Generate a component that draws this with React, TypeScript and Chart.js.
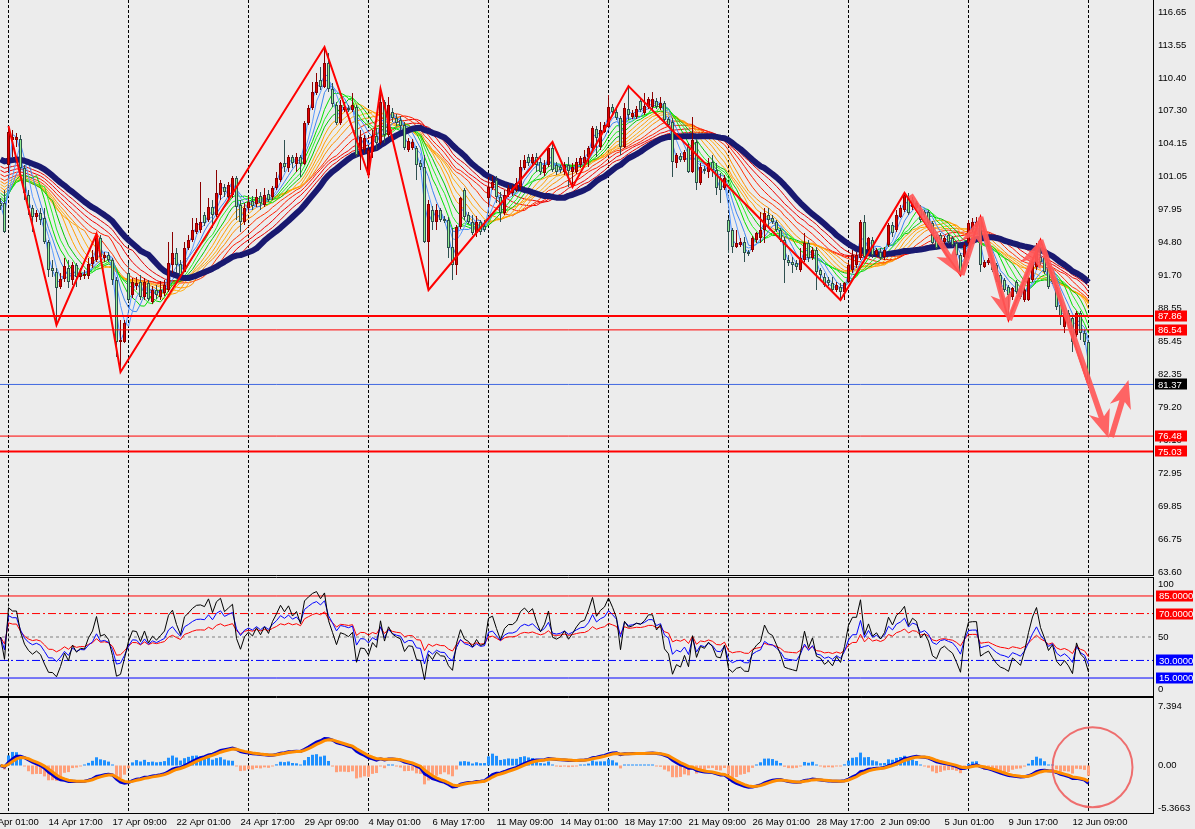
import { useEffect, useRef } from "react";
import { Chart, registerables } from "chart.js";

Chart.register(...registerables);

// ---------------- data (H4 bars, index 0 .. 272) ----------------
const opens = [
  98.56, 98.56, 102.16, 104.53, 104.53, 104.62, 101.88, 99.32, 98.09, 97.23,
  97.61, 97.14, 94.87, 92.40, 92.02, 90.60, 91.36, 92.40, 91.27, 92.69,
  91.55, 91.64, 91.64, 92.78, 93.16, 95.24, 93.35, 93.63, 93.16, 91.27,
  85.39, 85.39, 91.93, 89.84, 90.70, 91.08, 89.66, 90.98, 89.18, 90.32,
  89.66, 90.03, 90.32, 92.69, 93.82, 92.78, 92.02, 94.30, 95.05, 95.81,
  96.00, 97.42, 96.95, 98.18, 97.42, 99.32, 100.08, 99.13, 99.32, 100.93,
  98.37, 96.76, 98.09, 98.75, 98.47, 99.22, 98.37, 99.41, 99.13, 99.98,
  100.74, 102.35, 101.88, 102.92, 102.25, 102.92, 102.25, 106.14, 107.56, 108.98,
  110.21, 109.55, 111.82, 109.36, 107.84, 106.14, 107.37, 107.56, 107.37, 107.65,
  103.11, 103.58, 101.21, 103.39, 104.91, 104.24, 108.13, 105.00, 107.18, 106.61,
  106.42, 105.95, 103.58, 103.77, 103.77, 102.35, 101.97, 94.87, 97.90, 96.76,
  97.90, 97.04, 96.95, 94.39, 92.69, 96.29, 99.79, 97.42, 96.76, 95.72,
  96.76, 96.38, 99.03, 99.98, 100.74, 99.13, 97.61, 99.32, 99.51, 99.79,
  100.08, 101.88, 102.92, 102.35, 102.92, 102.44, 101.40, 102.16, 103.77, 102.16,
  101.97, 101.50, 102.16, 101.50, 101.50, 102.16, 102.35, 102.92, 103.77, 105.57,
  103.86, 105.29, 105.76, 107.65, 107.18, 106.61, 103.86, 107.46, 106.71, 106.71,
  108.22, 107.09, 107.65, 107.65, 108.22, 107.56, 108.03, 106.52, 106.23, 102.35,
  103.01, 102.63, 103.86, 101.50, 104.34, 100.45, 101.78, 101.50, 102.44, 101.69,
  100.93, 99.98, 96.95, 96.00, 94.39, 94.58, 94.87, 93.92, 94.11, 95.05,
  95.24, 96.00, 97.42, 97.14, 96.76, 96.00, 95.05, 93.16, 92.97, 92.88,
  92.21, 93.16, 94.77, 93.35, 94.11, 92.21, 91.55, 91.27, 90.98, 90.32,
  90.60, 90.13, 91.08, 92.21, 92.69, 93.35, 96.76, 94.11, 95.05, 93.63,
  93.92, 93.44, 94.58, 96.48, 96.00, 97.23, 97.90, 99.03, 98.18, 98.09,
  97.90, 97.71, 97.71, 96.67, 95.34, 95.53, 94.87, 95.53, 95.24, 94.77,
  93.63, 93.44, 94.77, 96.00, 96.29, 97.14, 92.50, 92.88, 92.97, 92.69,
  91.74, 91.27, 90.60, 89.66, 91.08, 90.51, 89.37, 89.37, 91.27, 92.50,
  93.44, 93.35, 92.50, 91.55, 90.60, 88.90, 86.81, 88.14, 87.67, 86.06,
  88.14, 86.24, 85.39,
];
const highs = [
  99.03, 99.79, 105.85, 105.48, 105.19, 105.00, 102.16, 99.79, 98.37, 97.90,
  98.09, 98.09, 95.05, 93.16, 92.40, 91.93, 93.35, 93.16, 92.97, 92.88,
  92.40, 92.21, 93.35, 94.11, 95.62, 95.53, 93.92, 93.92, 93.35, 91.55,
  87.48, 87.48, 92.88, 91.46, 91.55, 91.74, 91.46, 91.27, 90.70, 90.79,
  91.17, 91.27, 94.87, 95.81, 94.30, 93.16, 94.87, 95.53, 97.14, 97.14,
  100.55, 97.71, 99.03, 98.84, 101.69, 100.74, 100.36, 100.55, 101.12, 101.12,
  98.84, 98.56, 99.22, 99.22, 99.89, 99.60, 99.98, 99.79, 100.17, 101.50,
  102.44, 104.53, 103.11, 103.11, 103.30, 103.11, 106.33, 107.84, 110.02, 110.87,
  111.44, 113.34, 112.77, 109.93, 108.13, 108.32, 108.13, 107.84, 108.98, 107.84,
  105.48, 105.00, 103.77, 105.48, 105.66, 109.36, 108.32, 108.60, 107.56, 106.99,
  106.80, 106.23, 104.72, 104.62, 103.96, 102.63, 103.11, 98.84, 98.28, 98.47,
  98.09, 97.33, 97.23, 96.19, 96.48, 99.13, 99.98, 97.71, 97.42, 97.33,
  96.95, 96.95, 101.02, 101.12, 101.12, 99.60, 99.79, 100.26, 100.26, 100.93,
  102.63, 103.11, 103.20, 103.20, 103.30, 102.82, 102.63, 103.96, 104.34, 102.44,
  102.16, 102.44, 102.92, 102.35, 102.82, 103.01, 103.58, 103.96, 105.85, 105.85,
  106.23, 106.23, 108.79, 107.94, 107.56, 106.80, 108.03, 109.64, 107.37, 107.75,
  108.51, 108.98, 108.60, 109.08, 108.51, 108.60, 108.22, 106.71, 106.61, 103.30,
  103.30, 103.58, 104.24, 106.71, 104.53, 102.35, 102.06, 102.82, 103.11, 102.35,
  101.40, 101.21, 97.14, 96.19, 96.00, 95.24, 95.34, 94.11, 95.43, 95.81,
  97.71, 98.09, 98.09, 97.42, 96.95, 96.19, 95.34, 93.63, 93.44, 93.16,
  94.30, 95.72, 95.05, 94.39, 94.39, 92.40, 91.93, 91.55, 91.55, 91.08,
  90.98, 91.08, 92.97, 94.11, 93.92, 96.95, 97.42, 95.34, 95.34, 94.30,
  94.30, 94.39, 96.67, 96.76, 97.90, 98.37, 99.51, 99.51, 99.13, 98.75,
  98.37, 97.90, 97.90, 96.85, 95.53, 95.72, 95.43, 95.72, 95.43, 94.96,
  93.82, 94.77, 96.95, 97.14, 97.23, 97.23, 93.16, 93.35, 93.35, 92.88,
  91.93, 91.46, 90.79, 90.60, 91.27, 90.70, 90.60, 91.64, 93.16, 94.77,
  95.05, 93.54, 92.69, 91.74, 90.79, 89.09, 88.42, 88.42, 87.95, 88.33,
  88.33, 86.53, 85.58,
];
const lows = [
  97.90, 95.72, 101.69, 102.92, 103.86, 101.21, 98.84, 97.42, 95.81, 96.76,
  96.48, 94.68, 91.55, 91.55, 87.00, 90.41, 91.08, 90.51, 90.79, 90.60,
  91.27, 91.36, 91.36, 92.40, 92.97, 92.97, 92.97, 92.97, 90.79, 83.97,
  82.55, 85.30, 89.18, 89.56, 90.32, 89.37, 89.37, 89.28, 88.99, 89.47,
  89.37, 89.75, 90.13, 91.93, 91.93, 91.46, 92.02, 94.11, 94.87, 95.62,
  95.72, 96.38, 96.76, 96.19, 97.23, 98.84, 99.13, 98.84, 99.03, 96.95,
  95.81, 96.48, 97.71, 97.90, 98.18, 97.90, 98.18, 98.65, 98.84, 99.79,
  100.55, 101.50, 101.50, 101.88, 101.50, 101.02, 102.16, 105.95, 107.37, 108.79,
  109.26, 109.45, 109.08, 107.65, 105.95, 105.95, 107.18, 107.18, 107.18, 102.92,
  101.69, 103.30, 101.21, 102.82, 103.58, 104.05, 104.24, 104.81, 106.23, 105.85,
  105.48, 103.58, 103.39, 103.58, 100.74, 101.69, 94.77, 90.32, 96.00, 96.00,
  96.76, 96.67, 93.35, 91.27, 91.74, 96.10, 96.95, 96.57, 95.53, 95.34,
  95.53, 95.81, 98.18, 99.79, 98.56, 96.76, 97.42, 99.13, 99.22, 99.60,
  99.79, 101.69, 102.06, 102.16, 101.50, 101.21, 101.12, 101.97, 101.50, 101.21,
  101.40, 101.21, 100.08, 100.08, 101.31, 101.88, 101.97, 101.97, 103.58, 102.92,
  103.58, 105.19, 105.66, 106.99, 106.42, 103.11, 103.77, 106.42, 106.52, 106.52,
  107.18, 106.90, 107.46, 107.37, 107.46, 107.37, 106.14, 105.76, 101.02, 101.88,
  102.44, 102.44, 101.40, 101.40, 99.79, 100.26, 101.31, 100.93, 101.02, 99.32,
  98.56, 99.79, 93.82, 93.82, 94.30, 94.39, 92.97, 93.54, 93.92, 94.77,
  94.77, 94.77, 96.19, 96.57, 95.81, 94.87, 90.98, 92.59, 91.93, 92.21,
  92.02, 92.97, 92.97, 93.16, 90.32, 91.27, 90.60, 90.70, 90.13, 90.13,
  89.37, 89.37, 90.98, 91.93, 92.40, 93.16, 93.35, 93.92, 93.35, 93.44,
  93.16, 93.16, 94.39, 95.34, 95.81, 97.14, 97.71, 97.42, 97.90, 97.90,
  96.76, 97.23, 96.48, 94.58, 94.11, 94.87, 94.68, 94.68, 94.39, 93.44,
  91.74, 93.25, 94.58, 95.81, 96.10, 92.02, 92.40, 92.69, 92.02, 91.08,
  90.13, 90.13, 87.48, 89.37, 89.94, 89.47, 89.18, 89.28, 91.08, 92.21,
  92.69, 91.83, 90.41, 90.89, 88.42, 87.00, 86.24, 86.72, 84.45, 85.87,
  85.58, 85.11, 81.30,
];
const closes = [
  98.28, 95.81, 105.29, 104.81, 104.81, 101.88, 99.51, 98.09, 97.23, 97.61,
  96.95, 94.87, 92.21, 92.12, 90.51, 91.36, 92.59, 91.08, 92.69, 91.55,
  91.93, 91.83, 92.78, 93.44, 95.24, 93.44, 93.63, 93.16, 91.27, 85.39,
  85.58, 87.19, 89.37, 91.08, 90.98, 89.66, 91.08, 89.47, 90.32, 89.84,
  90.32, 90.79, 92.88, 93.82, 92.69, 91.74, 94.30, 95.05, 96.00, 96.67,
  96.76, 96.67, 98.18, 97.42, 99.51, 100.45, 99.60, 100.26, 100.93, 98.18,
  96.76, 98.09, 98.65, 98.28, 99.13, 98.56, 99.32, 98.84, 99.98, 100.93,
  102.35, 101.97, 102.92, 102.35, 102.92, 102.25, 106.14, 107.56, 109.08, 110.02,
  109.55, 111.82, 109.36, 107.94, 106.14, 107.84, 107.65, 107.37, 107.84, 103.11,
  104.81, 104.72, 103.58, 104.91, 104.24, 108.13, 105.00, 107.84, 106.61, 106.14,
  105.85, 103.77, 104.43, 104.34, 102.16, 101.97, 94.87, 98.47, 96.76, 97.90,
  96.95, 96.85, 94.30, 92.69, 96.29, 99.03, 97.23, 96.76, 95.72, 96.76,
  95.81, 96.00, 100.08, 100.55, 99.13, 97.61, 99.32, 99.98, 99.98, 100.45,
  101.97, 102.63, 102.35, 102.92, 102.16, 101.50, 102.16, 103.77, 101.69, 101.50,
  101.69, 102.16, 101.59, 101.97, 102.44, 102.82, 102.92, 103.77, 105.66, 104.72,
  105.48, 105.95, 107.65, 107.18, 106.61, 103.86, 107.56, 106.90, 107.09, 107.46,
  107.37, 107.75, 108.41, 108.41, 107.65, 108.03, 106.42, 105.95, 102.44, 103.11,
  102.63, 103.39, 101.50, 104.53, 100.45, 101.97, 101.59, 102.35, 101.69, 99.98,
  99.79, 100.93, 95.81, 94.39, 94.77, 94.87, 93.82, 93.73, 95.24, 95.72,
  96.00, 97.61, 96.95, 96.76, 96.00, 95.05, 93.16, 92.88, 92.69, 92.50,
  93.35, 94.77, 93.35, 94.11, 92.02, 91.74, 90.79, 90.98, 90.32, 90.79,
  90.13, 90.98, 92.69, 93.63, 93.63, 96.76, 93.44, 95.24, 93.63, 94.11,
  93.35, 94.11, 96.48, 95.72, 97.42, 98.09, 99.32, 97.61, 98.84, 98.56,
  96.95, 97.42, 96.67, 94.77, 94.30, 95.05, 95.24, 94.87, 94.58, 93.63,
  92.02, 94.58, 96.67, 96.76, 96.76, 92.69, 92.97, 93.16, 92.21, 91.27,
  90.60, 90.32, 89.84, 90.51, 90.13, 89.66, 90.32, 91.46, 92.97, 94.39,
  92.97, 92.02, 90.60, 91.08, 88.71, 87.76, 88.14, 87.19, 85.39, 88.14,
  86.24, 85.39, 81.37,
];

// time axis labels (bar index where each label starts) and dotted grid bars
const timeLabels = [
  "10 Apr 01:00", "14 Apr 17:00", "17 Apr 09:00", "22 Apr 01:00", "24 Apr 17:00",
  "29 Apr 09:00", "4 May 01:00", "6 May 17:00", "11 May 09:00", "14 May 01:00",
  "18 May 17:00", "21 May 09:00", "26 May 01:00", "28 May 17:00", "2 Jun 09:00",
  "5 Jun 01:00", "9 Jun 17:00", "12 Jun 09:00",
];
const timeLabelBars = [-4, 12, 28, 44, 60, 76, 92, 108, 124, 140, 156, 172, 188, 204, 220, 236, 252, 268];
const gridBars = [2, 32, 62, 92, 122, 152, 182, 212, 242, 272];

// price axis tick labels (bottom to top)
const priceTickLabels = [
  "63.60", "66.75", "69.85", "72.95", "76.10", "79.20", "82.35", "85.45", "88.55",
  "91.70", "94.80", "97.95", "101.05", "104.15", "107.30", "110.40", "113.55", "116.65",
];
const priceTickLow = 63.6;
const priceTickHigh = 116.65;

// rainbow moving averages (periods, start values read at left edge, colours)
const ribbonPeriods = [2, 4, 6, 8, 10, 12, 14, 16, 18, 20, 23, 26, 29, 32];
const ribbonSeeds = [98.56, 98.75, 98.94, 99.13, 99.32, 99.6, 99.89, 100.17, 100.45, 100.74, 101.02, 101.4, 101.78, 102.16];
const ribbonColors = [
  "#4A90FF", "#5B9BFF", "#3C84F0",
  "#00E000", "#22F022", "#00C800",
  "#FFA500", "#FF9A00", "#FFAE10", "#FF8C00",
  "#FF3300", "#FF1A00", "#F00000", "#E00000",
];
const trendPeriod = 36;
const trendSeed = 102.82;

// zigzag vertices
const zigzagBars = [2, 14, 24, 30, 81, 92, 95, 107, 138, 143, 157, 210, 226, 240, 245, 252, 260, 272];
const zigzagPrices = [105.85, 87.0, 95.62, 82.55, 113.34, 101.21, 109.36, 90.32, 104.34, 100.08, 109.64, 89.37, 99.51, 91.74, 97.23, 87.48, 95.05, 81.3];

// drawn arrows
const arrowFromBars = [227.5, 240.3, 245, 252.2, 260, 277.7];
const arrowFromPrices = [99.32, 91.74, 97.23, 87.48, 95.05, 76.4];
const arrowToBars = [240, 245, 252, 260, 277, 282];
const arrowToPrices = [91.74, 97.23, 87.48, 95.05, 76.3, 81.79];

// horizontal price lines
const levelPrices = [87.86, 86.54, 81.37, 76.48, 75.03];
const levelLabels = ["87.86", "86.54", "81.37", "76.48", "75.03"];
const levelColors = ["#FF0000", "#FF0000", "#4169E1", "#FF0000", "#FF0000"];
const levelWidths = [2, 1, 1, 1, 2];
const levelBoxColors = ["#FF0000", "#FF0000", "#000000", "#FF0000", "#FF0000"];

// RSI panel
const rsiPeriods = [6, 12, 24];
const rsiColors = ["#000000", "#0000FF", "#FF0000"];
const rsiSeedMove = 0.4;
const rsiLevels = [85, 70, 50, 30, 15];
const rsiLevelLabels = ["85.0000", "70.0000", "50", "30.0000", "15.0000"];
const rsiLevelColors = ["#FF0000", "#FF0000", "#808080", "#0000FF", "#0000FF"];
const rsiLevelDashes = [[], [8, 3, 2, 3], [3, 3], [8, 3, 2, 3], []];
const rsiBoxColors = ["#FF0000", "#FF0000", "", "#0000FF", "#0000FF"];

// MACD panel
const macdFast = 12;
const macdSlow = 26;
const macdSignal = 3;
const macdHistGain = 5;
const macdTickValues = [7.394, 0, -5.3663];
const macdTickLabels = ["7.394", "0.00", "-5.3663"];
const markCircleBar = 273;
const markCircleValue = -0.21;

// ---------------- layout constants ----------------
const BG = "#ECECEC";
const FONT = '"Liberation Sans", Arial, sans-serif';
const FS = 9.5;
const XMIN = -4.125;
const XMAX = 288.125;
const AXIS_W = 42;
const CW = 1211;

// ---------------- indicator helpers ----------------
function smaSeeded(src: number[], n: number, seed: number) {
  const out: number[] = [];
  let sum = 0;
  for (let i = 0; i < src.length; i++) {
    sum += src[i];
    if (i >= n) sum -= src[i - n];
    const cnt = Math.min(i + 1, n);
    out.push((sum + (n - cnt) * seed) / n);
  }
  return out;
}
function ema(src: number[], n: number) {
  const k = 2 / (n + 1);
  const out: number[] = [];
  let e = src[0];
  for (let i = 0; i < src.length; i++) {
    if (i > 0) e = e + k * (src[i] - e);
    out.push(e);
  }
  return out;
}
function rsi(src: number[], n: number) {
  let up = rsiSeedMove;
  let dn = rsiSeedMove;
  const out = [50];
  for (let i = 1; i < src.length; i++) {
    const d = src[i] - src[i - 1];
    up = (Math.max(d, 0) + (n - 1) * up) / n;
    dn = (Math.max(-d, 0) + (n - 1) * dn) / n;
    out.push((100 * up) / (up + dn || 1));
  }
  return out;
}
const pts = (arr: number[]) => arr.map((v, i) => ({ x: i, y: v }));
const hline = (v: number) => [
  { x: XMIN, y: v },
  { x: XMAX, y: v },
];

// ---------------- shared plugins ----------------
function framePlugin(topLine: boolean, bottomLine: boolean) {
  return {
    id: "frame",
    beforeDatasetsDraw(chart: any) {
      const { ctx, chartArea: a, scales } = chart;
      const x = scales.x;
      ctx.save();
      ctx.strokeStyle = "#000";
      ctx.lineWidth = 1;
      ctx.setLineDash([3, 2]);
      gridBars.forEach((b) => {
        const px = Math.floor(x.getPixelForValue(b)) + 0.5;
        ctx.beginPath();
        ctx.moveTo(px, a.top);
        ctx.lineTo(px, a.bottom);
        ctx.stroke();
      });
      ctx.restore();
    },
    afterDraw(chart: any) {
      const { ctx, chartArea: a, height } = chart;
      ctx.save();
      ctx.strokeStyle = "#000";
      ctx.lineWidth = 1;
      ctx.setLineDash([]);
      const r = Math.round(a.right) + 0.5;
      const yb = Math.round(a.bottom) + 0.5;
      ctx.beginPath();
      ctx.moveTo(r, 0);
      ctx.lineTo(r, bottomLine ? Math.min(height, yb + 0.5) : height);
      ctx.stroke();
      if (topLine) {
        ctx.beginPath();
        ctx.moveTo(0, 0.5);
        ctx.lineTo(r, 0.5);
        ctx.stroke();
      }
      if (bottomLine) {
        ctx.beginPath();
        ctx.moveTo(0, yb);
        ctx.lineTo(r, yb);
        ctx.stroke();
      }
      ctx.restore();
    },
  };
}

function drawBox(ctx: any, x: number, y: number, w: number, text: string, bg: string) {
  ctx.fillStyle = bg;
  ctx.fillRect(x, Math.round(y) - 5.5, w, 11);
  ctx.fillStyle = "#FFFFFF";
  ctx.textAlign = "left";
  ctx.textBaseline = "middle";
  ctx.fillText(text, x + 3, y + 0.5);
}

function drawArrow(ctx: any, x0: number, y0: number, x1: number, y1: number) {
  const dx = x1 - x0;
  const dy = y1 - y0;
  const len = Math.hypot(dx, dy) || 1;
  const ux = dx / len;
  const uy = dy / len;
  const nx = -uy;
  const ny = ux;
  const headLen = Math.min(28, len * 0.6);
  const headW = 11;
  const shaftW = 2.8;
  const bx = x1 - ux * headLen;
  const by = y1 - uy * headLen;
  const nb = 6;
  ctx.beginPath();
  ctx.moveTo(x0 + nx * shaftW, y0 + ny * shaftW);
  ctx.lineTo(bx + ux * nb + nx * shaftW, by + uy * nb + ny * shaftW);
  ctx.lineTo(bx + nx * headW, by + ny * headW);
  ctx.lineTo(x1, y1);
  ctx.lineTo(bx - nx * headW, by - ny * headW);
  ctx.lineTo(bx + ux * nb - nx * shaftW, by + uy * nb - ny * shaftW);
  ctx.lineTo(x0 - nx * shaftW, y0 - ny * shaftW);
  ctx.closePath();
  ctx.fill();
}

const xHidden = {
  type: "linear",
  min: XMIN,
  max: XMAX,
  offset: false,
  display: false,
};
const yFit = (s: any) => {
  s.width = AXIS_W;
  s.paddingTop = 0;
  s.paddingBottom = 0;
};
const baseOpts = {
  responsive: false,
  maintainAspectRatio: false,
  animation: false,
  devicePixelRatio: 1,
  events: [],
  plugins: { legend: { display: false }, tooltip: { enabled: false } },
};

// ---------------- main price chart ----------------
function mainConfig(): any {
  const n = closes.length;
  const idx = Array.from({ length: n }, (_, i) => i);
  const up = idx.map((i) => closes[i] >= opens[i]);
  const datasets: any[] = [];
  levelPrices.forEach((p, k) =>
    datasets.push({
      type: "line",
      data: hline(p),
      borderColor: levelColors[k],
      borderWidth: levelWidths[k],
      pointRadius: 0,
      order: 0,
    })
  );
  datasets.push({
    type: "line",
    data: zigzagBars.map((b, k) => ({ x: b, y: zigzagPrices[k] })),
    borderColor: "#FF0000",
    borderWidth: 2,
    pointRadius: 0,
    tension: 0,
    order: 1,
  });
  datasets.push({
    type: "bar",
    data: idx.map((i) => ({ x: i, y: [opens[i], closes[i]] })),
    backgroundColor: idx.map((i) => (up[i] ? "#E60000" : "#90EE90")),
    borderColor: idx.map((i) => (up[i] ? "#8B0000" : "#2F4F4F")),
    borderWidth: 1,
    borderSkipped: false,
    barThickness: 3,
    minBarLength: 1,
    grouped: false,
    inflateAmount: 0,
    order: 2,
  });
  datasets.push({
    type: "bar",
    data: idx.map((i) => ({ x: i, y: [lows[i], highs[i]] })),
    backgroundColor: idx.map((i) => (up[i] ? "#8B0000" : "#2F4F4F")),
    borderWidth: 0,
    barThickness: 1,
    grouped: false,
    inflateAmount: 0,
    order: 3,
  });
  datasets.push({
    type: "line",
    data: pts(smaSeeded(closes, trendPeriod, trendSeed)),
    borderColor: "#191970",
    borderWidth: 6,
    pointRadius: 0,
    tension: 0,
    borderJoinStyle: "round",
    order: 4,
  });
  ribbonPeriods.forEach((p, k) =>
    datasets.push({
      type: "line",
      data: pts(smaSeeded(closes, p, ribbonSeeds[k])),
      borderColor: ribbonColors[k],
      borderWidth: 1,
      pointRadius: 0,
      tension: 0,
      order: 5 + k,
    })
  );

  const step = (priceTickHigh - priceTickLow) / (priceTickLabels.length - 1);
  const overlay = {
    id: "overlay",
    afterDatasetsDraw(chart: any) {
      const { ctx, scales } = chart;
      ctx.save();
      ctx.fillStyle = "rgba(255, 88, 88, 0.92)";
      arrowFromBars.forEach((b, k) => {
        drawArrow(
          ctx,
          scales.x.getPixelForValue(b),
          scales.y.getPixelForValue(arrowFromPrices[k]),
          scales.x.getPixelForValue(arrowToBars[k]),
          scales.y.getPixelForValue(arrowToPrices[k])
        );
      });
      ctx.restore();
    },
    afterDraw(chart: any) {
      const { ctx, scales, chartArea: a } = chart;
      ctx.save();
      ctx.font = `${FS}px ${FONT}`;
      levelPrices.forEach((p, k) => {
        drawBox(ctx, Math.round(a.right) + 2, scales.y.getPixelForValue(p), 32, levelLabels[k], levelBoxColors[k]);
      });
      ctx.restore();
    },
  };

  return {
    type: "line",
    data: { datasets },
    options: {
      ...baseOpts,
      layout: { padding: { top: 0, bottom: 2, left: 0, right: 0 } },
      scales: {
        x: xHidden,
        y: {
          position: "right",
          min: 63.32,
          max: 117.79,
          afterFit: yFit,
          grid: { display: false, drawTicks: false },
          border: { display: false },
          afterBuildTicks: (s: any) => {
            s.ticks = priceTickLabels.map((_, k) => ({ value: priceTickLow + k * step }));
          },
          ticks: {
            autoSkip: false,
            padding: 5,
            color: "#000",
            font: { family: FONT, size: FS },
            callback: (_v: any, i: number) => priceTickLabels[i],
          },
        },
      },
    },
    plugins: [framePlugin(false, true), overlay],
  };
}

// ---------------- RSI chart ----------------
function rsiConfig(): any {
  const datasets: any[] = [];
  rsiPeriods.forEach((p, k) =>
    datasets.push({
      type: "line",
      data: pts(rsi(closes, p)),
      borderColor: rsiColors[k],
      borderWidth: 1,
      pointRadius: 0,
      tension: 0,
      order: k,
    })
  );
  rsiLevels.forEach((v, k) =>
    datasets.push({
      type: "line",
      data: hline(v),
      borderColor: rsiLevelColors[k],
      borderWidth: 1,
      borderDash: rsiLevelDashes[k],
      pointRadius: 0,
      order: 10 + k,
    })
  );
  const labels = {
    id: "rsiLabels",
    afterDraw(chart: any) {
      const { ctx, scales, chartArea: a } = chart;
      const x0 = Math.round(a.right) + 3;
      ctx.save();
      ctx.font = `${FS}px ${FONT}`;
      ctx.textAlign = "left";
      ctx.textBaseline = "middle";
      ctx.fillStyle = "#000";
      ctx.fillText("100", x0 + 2, a.top + 6);
      ctx.fillText("0", x0 + 2, a.bottom - 6.5);
      rsiLevels.forEach((v, k) => {
        const y = scales.y.getPixelForValue(v);
        if (rsiBoxColors[k]) {
          drawBox(ctx, x0, y, 37, rsiLevelLabels[k], rsiBoxColors[k]);
        } else {
          ctx.fillStyle = "#000";
          ctx.fillText(rsiLevelLabels[k], x0 + 2, y + 0.5);
        }
      });
      ctx.restore();
    },
  };
  return {
    type: "line",
    data: { datasets },
    options: {
      ...baseOpts,
      layout: { padding: { top: 1.4, bottom: 1.4, left: 0, right: 0 } },
      scales: {
        x: xHidden,
        y: {
          position: "right",
          min: 0,
          max: 100,
          afterFit: yFit,
          grid: { display: false, drawTicks: false },
          border: { display: false },
          ticks: { display: false },
        },
      },
    },
    plugins: [framePlugin(true, true), labels],
  };
}

// ---------------- MACD chart ----------------
function macdConfig(): any {
  const e1 = ema(closes, macdFast);
  const e2 = ema(closes, macdSlow);
  const dif = closes.map((_, i) => e1[i] - e2[i]);
  const sig = ema(dif, macdSignal);
  const hist = dif.map((v, i) => macdHistGain * (v - sig[i]));
  const datasets: any[] = [
    {
      type: "line",
      data: pts(sig),
      borderColor: "#FF8C00",
      borderWidth: 3,
      pointRadius: 0,
      tension: 0,
      order: 0,
    },
    {
      type: "line",
      data: pts(dif),
      borderColor: "#0000CD",
      borderWidth: 3,
      pointRadius: 0,
      tension: 0,
      order: 1,
    },
    {
      type: "bar",
      data: pts(hist),
      backgroundColor: hist.map((v) => (v >= 0 ? "#1E90FF" : "#FFA07A")),
      borderWidth: 0,
      barThickness: 3,
      minBarLength: 1,
      grouped: false,
      inflateAmount: 0,
      order: 2,
    },
  ];
  const circle = {
    id: "circle",
    afterDatasetsDraw(chart: any) {
      const { ctx, scales } = chart;
      ctx.save();
      ctx.strokeStyle = "rgba(238, 88, 88, 0.85)";
      ctx.lineWidth = 2;
      ctx.beginPath();
      ctx.arc(scales.x.getPixelForValue(markCircleBar), scales.y.getPixelForValue(markCircleValue), 40, 0, Math.PI * 2);
      ctx.stroke();
      ctx.restore();
    },
  };
  return {
    type: "line",
    data: { datasets },
    options: {
      ...baseOpts,
      layout: { padding: { top: 1, bottom: 0, left: 0, right: 0 } },
      scales: {
        x: {
          type: "linear",
          min: XMIN,
          max: XMAX,
          offset: false,
          position: "bottom",
          grid: { display: false, drawTicks: false },
          border: { display: false },
          afterBuildTicks: (s: any) => {
            s.ticks = timeLabelBars.map((v) => ({ value: v }));
          },
          afterFit: (s: any) => {
            s.height = 16;
            s.paddingLeft = 0;
            s.paddingRight = 0;
          },
          ticks: {
            autoSkip: false,
            maxRotation: 0,
            minRotation: 0,
            align: "start",
            padding: 4,
            color: "#000",
            font: { family: FONT, size: FS },
            callback: (_v: any, i: number) => timeLabels[i],
          },
        },
        y: {
          position: "right",
          min: -5.98,
          max: 8.5,
          afterFit: yFit,
          grid: { display: false, drawTicks: false },
          border: { display: false },
          afterBuildTicks: (s: any) => {
            s.ticks = macdTickValues.map((v) => ({ value: v }));
          },
          ticks: {
            autoSkip: false,
            padding: 5,
            color: "#000",
            font: { family: FONT, size: FS },
            callback: (_v: any, i: number) => macdTickLabels[i],
          },
        },
      },
    },
    plugins: [framePlugin(true, true), circle],
  };
}

export default function App() {
  const mainRef = useRef<HTMLCanvasElement>(null);
  const rsiRef = useRef<HTMLCanvasElement>(null);
  const macdRef = useRef<HTMLCanvasElement>(null);

  useEffect(() => {
    document.body.style.margin = "0";
    document.body.style.background = BG;
    const charts = [
      new Chart(mainRef.current as HTMLCanvasElement, mainConfig()),
      new Chart(rsiRef.current as HTMLCanvasElement, rsiConfig()),
      new Chart(macdRef.current as HTMLCanvasElement, macdConfig()),
    ];
    return () => charts.forEach((c) => c.destroy());
  }, []);

  const cs = (top: number, h: number): any => ({
    position: "absolute",
    left: -16,
    top,
    width: CW,
    height: h,
    display: "block",
  });

  return (
    <div style={{ position: "relative", width: 1195, height: 829, overflow: "hidden", background: BG }}>
      <canvas ref={mainRef} width={CW} height={577} style={cs(0, 577)} />
      <canvas ref={rsiRef} width={CW} height={120} style={cs(577, 120)} />
      <canvas ref={macdRef} width={CW} height={132} style={cs(697, 132)} />
    </div>
  );
}
